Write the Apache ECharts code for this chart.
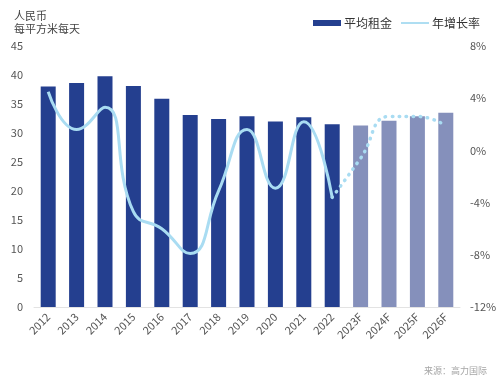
<!DOCTYPE html>
<html>
<head>
<meta charset="utf-8">
<script src="https://cdn.jsdelivr.net/npm/echarts@6/dist/echarts.min.js"></script>
<style>html,body{margin:0;padding:0;background:#fff;}#c{width:500px;height:387px;}</style>
</head>
<body>
<div id="c"></div>
<script>
const categories = ['2012','2013','2014','2015','2016','2017','2018','2019','2020','2021','2022','2023F','2024F','2025F','2026F'];
const rent = [38.0, 38.6, 39.8, 38.1, 35.9, 33.1, 32.4, 32.9, 32.0, 32.7, 31.5, 31.3, 32.1, 32.9, 33.5];
const growth = [4.5, 1.6, 3.3, -4.7, -6.0, -7.9, -3.1, 1.6, -2.9, 2.2, -3.6, -0.6, 2.6, 2.6, 1.9];
const leftTicks = [0, 45, 5];
const rightTicks = [-12, 8, 4];

const ACT = '#243f8f', FC = '#8590bb', LINE = '#a9dcf2';
const lastActual = categories.indexOf('2022');
const solid = growth.map((v, i) => i <= lastActual ? v : null);
const dotted = growth.map((v, i) => i >= lastActual ? v : null);

const chart = echarts.init(document.getElementById('c'));
const font = 'Noto Sans CJK SC';
chart.setOption({
  animation: false,
  textStyle: { fontFamily: font },
  grid: { left: 34, right: 40, top: 46, bottom: 80 },
  title: [
    { text: '人民币\n每平方米每天', left: 9, top: 4, textStyle: { fontSize: 11, fontWeight: 'normal', color: '#444', lineHeight: 13, fontFamily: font } },
    { text: '来源：高力国际', right: 8, bottom: 7, textStyle: { fontSize: 9, fontWeight: 'normal', color: '#a6a6a6', fontFamily: font } }
  ],
  legend: {
    right: 15, top: 12, itemGap: 9, itemWidth: 28, itemHeight: 6,
    textStyle: { fontSize: 12, color: '#333', fontFamily: font, padding: [0, 0, 0, -2] },
    data: [
      { name: '平均租金', icon: 'rect' },
      { name: '年增长率', icon: 'path://M0,0 L30,0 L30,2 L0,2 Z', itemStyle: { color: LINE } }
    ]
  },
  xAxis: {
    type: 'category', data: categories,
    axisLine: { lineStyle: { color: '#e3e3e3', width: 1 } },
    axisTick: { show: false },
    axisLabel: { rotate: 45, fontSize: 11, color: '#555', margin: 8, interval: 0 }
  },
  yAxis: [
    { type: 'value', min: leftTicks[0], max: leftTicks[1], interval: leftTicks[2],
      splitLine: { show: false }, axisLine: { show: false }, axisTick: { show: false },
      axisLabel: { fontSize: 11, color: '#555', margin: 11 } },
    { type: 'value', min: rightTicks[0], max: rightTicks[1], interval: rightTicks[2],
      splitLine: { show: false }, axisLine: { show: false }, axisTick: { show: false },
      axisLabel: { fontSize: 11, color: '#555', margin: 10, formatter: '{value}%' } }
  ],
  series: [
    { name: '平均租金', type: 'bar', barWidth: 15, itemStyle: { color: ACT },
      data: rent.map((v, i) => ({ value: v, itemStyle: { color: categories[i].endsWith('F') ? FC : ACT } })) },
    { name: '年增长率', type: 'line', yAxisIndex: 1, smooth: 0.5, symbol: 'none',
      lineStyle: { color: LINE, width: 3 }, itemStyle: { color: LINE }, data: solid, z: 3 },
    { name: '年增长率', type: 'line', yAxisIndex: 1, smooth: 0.5, symbol: 'none',
      lineStyle: { color: LINE, width: 3.5, type: [0.5, 6.5], cap: 'round' }, itemStyle: { color: LINE }, data: dotted, z: 3 }
  ]
});
</script>
</body>
</html>
